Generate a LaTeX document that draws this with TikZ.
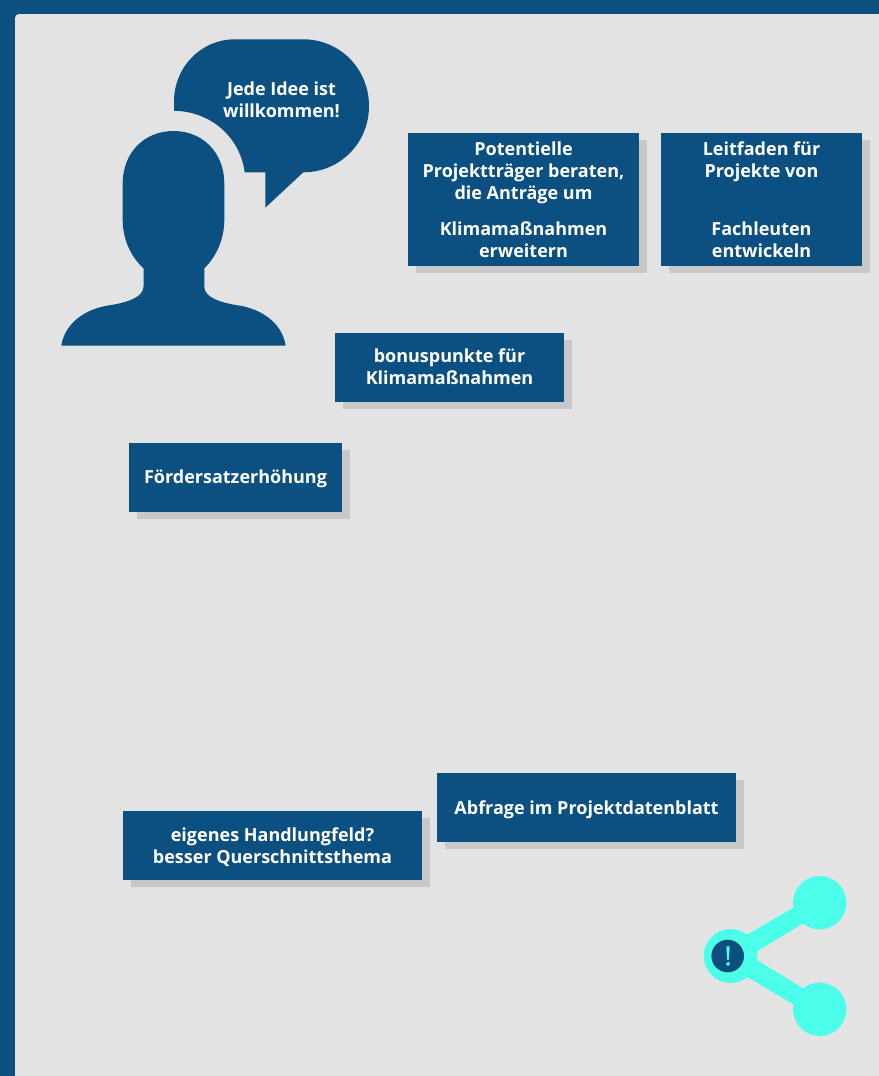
\documentclass[tikz,border=0pt]{standalone}
\usepackage{fontspec}
\setmainfont{Open Sans}
\usetikzlibrary{shadows}
\definecolor{navy}{HTML}{0B5080}
\definecolor{panel}{HTML}{E3E3E3}
\definecolor{shade}{HTML}{C8C8C8}
\definecolor{aqua}{HTML}{4BFFEB}
\definecolor{deep}{HTML}{0C4F7C}
\newcommand{\uu}{0.75pt}
\tikzset{
  bluebox/.style={fill=navy,text=white,inner sep=0pt,align=center,
    font=\bfseries\fontsize{13.5}{16.5}\selectfont,
    general shadow={fill=shade,shadow xshift=6pt,shadow yshift=-5.25pt}},
  bubbletext/.style={text=white,inner sep=0pt,align=center,font=\bfseries\fontsize{13.5}{16.5}\selectfont},
  navyshape/.style={fill=navy,draw=none},
  aquashape/.style={fill=aqua,draw=none}
}
\begin{document}
\begin{tikzpicture}[x=0.75pt,y=-0.75pt]
\useasboundingbox (0,0) rectangle (879,1076);
\fill[navy] (0,0) rectangle (879,1076);
\fill[panel,rounded corners=3pt] (15,14) -- (890,14) -- (890,1080) -- (15,1080) -- cycle;
% speech bubble
\fill[navyshape] (174,110.7) -- (174,101.7)
  .. controls (174,67) and (201,39.3) .. (235,39.3) -- (303.3,39.3)
  .. controls (340,39.3) and (369,69) .. (369,106)
  .. controls (369,143) and (340,172.3) .. (303.3,172.3)
  -- (265.3,207.7) -- (265.3,172.3) -- (244.7,172.3)
  .. controls (240,137) and (211,111.5) .. (174,110.7) -- cycle;
% person
\fill[navyshape] (61.3,345.7)
  .. controls (65,322) and (87,309) .. (107,305.7)
  .. controls (125,303) and (143.5,298) .. (143.5,286.7)
  -- (143.5,268.3)
  .. controls (130,256) and (122.7,238) .. (122.7,220)
  -- (122.7,183.3)
  .. controls (122.7,153) and (144,131) .. (173.5,131)
  .. controls (203,131) and (224.3,153) .. (224.3,183.3)
  -- (224.3,220)
  .. controls (224.3,238) and (217,256) .. (204.3,268.3)
  -- (204.3,286.7)
  .. controls (204.3,298) and (222,303) .. (240,305.7)
  .. controls (260,309) and (282,322) .. (285.7,345.7) -- cycle;
\node[bubbletext] (idea) at (281.5,99.5) {Jede Idee ist\\willkommen!};
% boxes
\node[bluebox,minimum width=231*\uu,minimum height=133*\uu] (berat) at (523.5,199.5) {};
\node[bubbletext] (berattext) at (523.5,200)
  {Potentielle\\Projektträger beraten,\\die Anträge um\\[10.5pt]Klimamaßnahmen\\erweitern};
\node[bluebox,minimum width=201*\uu,minimum height=133*\uu] (leit) at (761.5,199.5) {};
\node[bubbletext] (leittext) at (761.5,200)
  {Leitfaden für\\Projekte von\\[27pt]Fachleuten\\entwickeln};
\node[bluebox,minimum width=229*\uu,minimum height=69*\uu] (bonus) at (449.5,367.5) {};
\node[bubbletext] (bonustext) at (449.5,366.5) {bonuspunkte für\\Klimamaßnahmen};
\node[bluebox,minimum width=213*\uu,minimum height=69*\uu] (foerder) at (235.5,477.5) {};
\node[bubbletext] (foerdertext) at (235.5,479) {Fördersatzerhöhung};
\node[bluebox,minimum width=299*\uu,minimum height=69*\uu] (abfrage) at (586.5,807.5) {};
\node[bubbletext] (abfragetext) at (586.5,809.5) {Abfrage im Projektdatenblatt};
\node[bluebox,minimum width=299*\uu,minimum height=69*\uu] (eigen) at (272.5,845.5) {};
\node[bubbletext] (eigentext) at (272.5,847.5) {eigenes Handlungfeld?\\besser Querschnittsthema};
% share icon
\fill[aquashape] (746.7,935) -- (793.3,907.7) -- (803.3,923.3) -- (756.7,951.7)
  -- (756.7,960) -- (803.3,988.3) -- (793.3,1004.3) -- (746.7,976.7) -- cycle;
\fill[aquashape] (819.7,902.7) circle [radius=26.7];
\fill[aquashape] (819.7,1009.3) circle [radius=26.7];
\fill[aquashape] (730.7,956) circle [radius=27];
\fill[deep] (727.7,956) circle [radius=16.3];
\node[text=aqua,inner sep=0pt,font=\fontsize{19.5}{19.5}\selectfont\addfontfeature{FakeBold=1.5}] (alert) at (728,956) {!};
\end{tikzpicture}
\end{document}
